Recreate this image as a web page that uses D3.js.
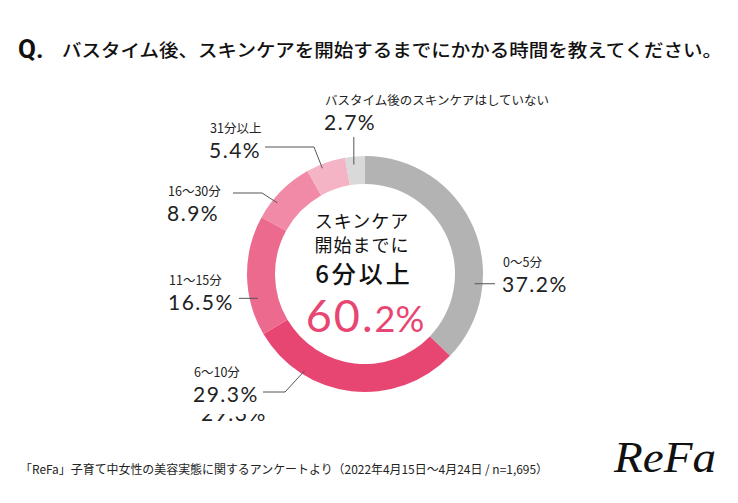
<!DOCTYPE html>
<html lang="ja">
<head>
<meta charset="utf-8">
<script src="https://cdn.jsdelivr.net/npm/d3@7"></script>
<style>
  html, body { margin: 0; padding: 0; background: #fff; }
  svg { display: block; }
  .jp  { font-family: "Noto Sans CJK JP", "Noto Sans", sans-serif; }
  .num { font-family: Lato, "Noto Sans", sans-serif; }
</style>
</head>
<body>
<svg id="chart" width="738" height="503"></svg>
<script>
// ── Data ──────────────────────────────────────────────────────────────────────
const categories = ['0〜5分', '6〜10分', '11〜15分', '16〜30分', '31分以上', 'バスタイム後のスキンケアはしていない'];
const values     = [37.2, 29.3, 16.5, 8.9, 5.4, 2.7];
const colors     = ['#b3b3b3', '#e84672', '#ec6a8e', '#f08aa6', '#f5b4c6', '#d9d9d9'];
const centerLines = ['スキンケア', '開始までに', '6分以上'];
const centerValue = ['60.', '2%'];

// label layout: text anchor, leader points before the ring, where the leader hits the ring
const labelLayout = [
  { x: 503, y: 267, line: [[495, null]],            frac: 0.71, r: 110 },
  { x: 194, y: 377, line: [[263, 392], [285, 392]], frac: 0.74, r: 114 },
  { x: 169, y: 285, line: [[239, null]],            frac: 0.30, r: 110 },
  { x: 168, y: 196, line: [[233, 193], [262, 193]], frac: 0.32, r: 113 },
  { x: 210, y: 133, line: [[265, 147], [314, 147]], frac: 0.37, r: 114 },
  { x: 325, y: 105, line: [[null, 137]],            frac: 0.40, r: 110 },
];

// ── Setup ─────────────────────────────────────────────────────────────────────
const svg = d3.select('#chart');
const cx = 365, cy = 274, R = 118, r0 = 90;

svg.append('rect').attr('width', 738).attr('height', 503).attr('fill', '#fff');

// Title
svg.append('text').attr('x', 18).attr('y', 58).attr('fill', '#111')
  .attr('font-family', 'Roboto, "Noto Sans", sans-serif')
  .attr('font-size', 26).attr('font-weight', 700).text('Q.');
svg.append('text').attr('class', 'jp').attr('x', 62).attr('y', 57)
  .attr('font-size', 18).attr('font-weight', 500).attr('fill', '#111')
  .attr('textLength', 660).attr('lengthAdjust', 'spacingAndGlyphs')
  .text('バスタイム後、スキンケアを開始するまでにかかる時間を教えてください。');

// ── Donut ─────────────────────────────────────────────────────────────────────
const pie = d3.pie().sort(null).value(d => d)(values);
const arc = d3.arc().innerRadius(r0).outerRadius(R);
const g = svg.append('g').attr('transform', `translate(${cx},${cy})`);

g.selectAll('path.slice')
  .data(pie)
  .enter().append('path')
  .attr('class', 'slice')
  .attr('d', arc)
  .attr('fill', (d, i) => colors[i]);

// Leaders (null coordinate = follow the ring end point)
const leaders = svg.append('g').attr('fill', 'none').attr('stroke', '#555').attr('stroke-width', 1);
pie.forEach((d, i) => {
  const L = labelLayout[i];
  const a = d.startAngle + L.frac * (d.endAngle - d.startAngle);
  const end = [cx + L.r * Math.sin(a), cy - L.r * Math.cos(a)];
  const pts = L.line.map(p => [p[0] ?? end[0], p[1] ?? end[1]]).concat([end]);
  leaders.append('path').attr('d', d3.line()(pts));
});

// Labels
const labels = svg.append('g').attr('fill', '#222');
categories.forEach((c, i) => {
  const L = labelLayout[i];
  labels.append('text').attr('class', 'jp').attr('x', L.x).attr('y', L.y)
    .attr('font-size', 12.5).text(c);
  labels.append('text').attr('class', 'num').attr('x', L.x - 1).attr('y', L.y + 25)
    .attr('font-size', 21).attr('letter-spacing', 1.5).text(values[i].toFixed(1) + '%');
});

// clipped ghost copy under the 6〜10分 value
svg.append('clipPath').attr('id', 'ghost').append('rect')
  .attr('x', 190).attr('y', 414).attr('width', 90).attr('height', 10);
svg.append('text').attr('class', 'num').attr('clip-path', 'url(#ghost)')
  .attr('x', 201).attr('y', 421).attr('font-size', 21).attr('letter-spacing', 1.5)
  .attr('fill', '#222').text(values[1].toFixed(1) + '%');

// Center text
const center = svg.append('g').attr('class', 'jp').attr('text-anchor', 'middle').attr('fill', '#111');
center.append('text').attr('x', cx - 3).attr('y', 228).attr('font-size', 18).attr('letter-spacing', 1).text(centerLines[0]);
center.append('text').attr('x', cx - 3).attr('y', 252).attr('font-size', 18).attr('letter-spacing', 1).text(centerLines[1]);
center.append('text').attr('x', cx - 1).attr('y', 283).attr('font-size', 24).attr('font-weight', 500)
  .attr('letter-spacing', 3).text(centerLines[2]);
const big = center.append('text').attr('class', 'num').attr('x', cx).attr('y', 332)
  .attr('fill', '#e84672').attr('font-weight', 400);
big.append('tspan').attr('font-size', 45).attr('letter-spacing', 2).text(centerValue[0]);
big.append('tspan').attr('font-size', 36).text(centerValue[1]);

// Footer
svg.append('text').attr('class', 'jp').attr('x', 20).attr('y', 474)
  .attr('font-size', 12).attr('fill', '#222')
  .attr('textLength', 528).attr('lengthAdjust', 'spacingAndGlyphs')
  .text('「ReFa」子育て中女性の美容実態に関するアンケートより（2022年4月15日〜4月24日 / n=1,695）');

// Logo
svg.append('text').attr('x', 614).attr('y', 472)
  .attr('font-family', '"Liberation Serif", "DejaVu Serif", serif')
  .attr('font-style', 'italic').attr('font-size', 44).attr('fill', '#111')
  .attr('textLength', 102).attr('lengthAdjust', 'spacingAndGlyphs')
  .text('ReFa');
</script>
</body>
</html>
